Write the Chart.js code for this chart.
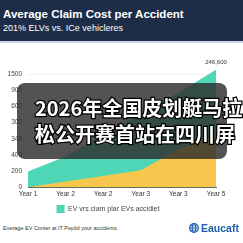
<!DOCTYPE html>
<html><head><meta charset="utf-8">
<script src="https://cdn.jsdelivr.net/npm/chart.js@4/dist/chart.umd.min.js"></script>
<style>
html,body{margin:0;padding:0;width:243px;height:243px;overflow:hidden;background:#fff;font-family:"Liberation Sans",Arial,sans-serif;}
#hdr{position:absolute;left:0;top:0;width:243px;height:41px;background:#1e2d47;border-bottom:2px solid #c9d6e3;}
#t1{position:absolute;left:3px;top:8px;color:#fff;font-weight:bold;font-size:11.5px;white-space:nowrap;}
#t2{position:absolute;left:3px;top:23px;color:#fff;font-size:9px;white-space:nowrap;}
#wrap{position:absolute;left:0;top:44px;width:243px;height:179px;}
#ov{position:absolute;left:17px;top:83px;width:210px;height:76px;background:rgba(45,45,45,0.82);border-radius:8px;}
#ovt{position:absolute;left:35px;top:95px;color:#fff;font-family:"Noto Sans CJK SC";font-weight:bold;font-size:20px;line-height:26px;white-space:nowrap;-webkit-text-stroke:2.5px #000;paint-order:stroke fill;}
#foot{position:absolute;left:3px;top:225px;font-size:5.5px;color:#333;white-space:nowrap;}
#logo{position:absolute;left:189px;top:222px;color:#1b5fae;font-weight:bold;font-size:10.5px;white-space:nowrap;display:flex;align-items:center;}
</style></head><body>
<div id="hdr"><div id="t1">Average Claim Cost per Accident</div><div id="t2">201% ELVs vs. ICe vehicleres</div></div>
<div id="wrap"><canvas id="c" width="243" height="179"></canvas></div>
<div id="ov"></div>
<div id="ovt">2026年全国皮划艇马拉<br>松公开赛首站在四川屏</div>
<div id="foot">Everage EV Conter at IT Peplid your accidents.</div>
<div id="logo"><svg width="10" height="10" viewBox="0 0 10 10" style="margin-right:2px"><circle cx="5" cy="5" r="4.3" fill="none" stroke="#1b5fae" stroke-width="1.2"/><ellipse cx="5" cy="5" rx="1.8" ry="4.3" fill="none" stroke="#1b5fae" stroke-width="1"/><line x1="0.7" y1="5" x2="9.3" y2="5" stroke="#1b5fae" stroke-width="1"/><line x1="1.5" y1="2.8" x2="8.5" y2="2.8" stroke="#1b5fae" stroke-width="0.8"/><line x1="1.5" y1="7.2" x2="8.5" y2="7.2" stroke="#1b5fae" stroke-width="0.8"/></svg>Eaucaft</div>
<script>
const categories = ["Year 1","Year 2","Year 2","Year 3","Year 3","Year 5"];
const evValues = [194, 380, 650, 910, 1170, 1455];
const iceValues = [0, 70, 140, 210, 470, 650];
const yTickValues = [0, 200, 400, 600, 800, 1000, 1200, 1400];
const yTickLabels = ["0", "200", "400", "340", "300", "600", "900", "1500"];
const peakLabel = "246,600";
const evLabel = "EV vrs clam plar EVs accidlet";
const iceLabel = "ICE";

const peakPlugin = {
  id: 'peak',
  afterDatasetsDraw(chart) {
    const meta = chart.getDatasetMeta(1);
    const pt = meta.data[meta.data.length - 1];
    const ctx = chart.ctx;
    ctx.save();
    ctx.font = '6px "Liberation Sans", Arial, sans-serif';
    ctx.fillStyle = '#333';
    ctx.textAlign = 'center';
    ctx.textBaseline = 'bottom';
    ctx.fillText(peakLabel, pt.x, pt.y - 4);
    ctx.restore();
  }
};

new Chart(document.getElementById('c'), {
  type: 'line',
  data: {
    labels: categories,
    datasets: [
      { label: iceLabel, data: iceValues, fill: 'origin', backgroundColor: '#f8c64c', borderWidth: 0, pointRadius: 0, tension: 0 },
      { label: evLabel, data: evValues, fill: 'origin', backgroundColor: '#4fd6b6', borderWidth: 0, pointRadius: 0, tension: 0 }
    ]
  },
  options: {
    responsive: false,
    animation: false,
    events: [],
    layout: { padding: { top: 22, right: 27, left: 0, bottom: 0 } },
    plugins: {
      tooltip: { enabled: false },
      legend: {
        position: 'bottom',
        labels: {
          filter: (item) => item.datasetIndex === 1,
          boxWidth: 8, boxHeight: 8, padding: 4,
          color: '#444',
          font: { size: 7, family: '"Liberation Sans", Arial, sans-serif' }
        }
      }
    },
    scales: {
      x: {
        offset: false,
        grid: { display: false, drawTicks: false },
        border: { display: true, color: '#666', width: 1 },
        ticks: { color: '#333', font: { size: 6.5, family: '"Liberation Sans", Arial, sans-serif' }, padding: 3, maxRotation: 0, autoSkip: false }
      },
      y: {
        min: 0, max: 1500,
        afterBuildTicks: (s) => { s.ticks = yTickValues.map(v => ({ value: v })); },
        afterFit: (s) => { s.width = 28; },
        grid: { color: '#f0f0f0', drawTicks: false },
        border: { display: false },
        ticks: { color: '#444', font: { size: 6.5, family: '"Liberation Sans", Arial, sans-serif' }, padding: 6,
          callback: (v, i) => yTickLabels[i] }
      }
    }
  },
  plugins: [peakPlugin]
});
</script>
</body></html>
